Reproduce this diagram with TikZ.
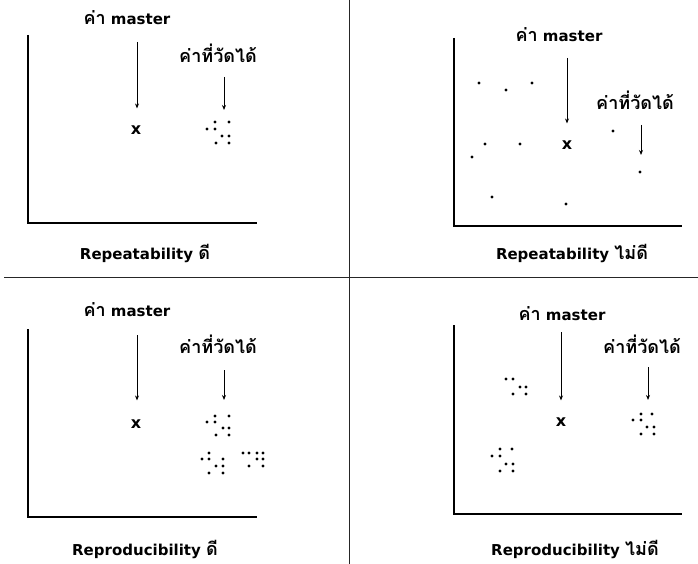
\documentclass[tikz,border=0pt]{standalone}
\usepackage{fontspec}
\setmainfont{DejaVu Sans}
\newfontfamily\thaifont[Script=Thai,Scale=1.2]{Loma}
\usetikzlibrary{arrows.meta}
\tikzset{every node/.style={font=\bfseries\fontsize{15}{18}\selectfont,inner sep=0pt},
  axis/.style={line width=1.7pt},
  divider/.style={line width=0.9pt,draw=black!85},
  pointer/.style={line width=0.9pt,-{Stealth[length=5pt,width=4pt]}},
  crossmark/.style={font=\bfseries\fontsize{16}{18}\selectfont}}

\begin{document}
\begin{tikzpicture}[x=1pt,y=-1pt]
  \path[use as bounding box] (0,0) rectangle (698,564);
  % dividers between the four cases
  \draw[divider] (349,0) -- (349,564);
  \draw[divider] (4,277) -- (698,277);
  % axes
  \foreach \x/\top/\bot/\right in {28/35/223/257,454/38/226/682,
      28/329/517/257,454/325/514/682}
    \draw[axis,line join=miter] (\x,\top) -- (\x,\bot) -- (\right,\bot);

  % Repeatability good
  \node (master1) at (127,18) {{\thaifont ค่า} master};
  \node (measured1) at (218,53) {\thaifont ค่าที่วัดได้};
  \node[crossmark] (cross1) at (136,130) {x};
  \node (caption1) at (145,253) {Repeatability {\thaifont ดี}};
  \coordinate (m1) at (137,42);
  \coordinate (v1a) at (224,77);
  \coordinate (v1b) at (224,110);
  \draw[pointer,shorten >=17pt] (m1) -- (m1 |- cross1.north);
  \draw[pointer] (v1a) -- (v1b);
  \foreach \x/\y in {215/122,229/122,207/129,215/129,222/136,229/136,216/143,229/143}
    \fill (\x,\y) circle (1.7);

  % Repeatability poor
  \node (master2) at (559,35) {{\thaifont ค่า} master};
  \node (measured2) at (635,100) {\thaifont ค่าที่วัดได้};
  \node[crossmark] (cross2) at (567,145) {x};
  \node (caption2) at (572,253) {Repeatability {\thaifont ไม่ดี}};
  \coordinate (m2) at (567,58);
  \coordinate (v2a) at (641,125);
  \coordinate (v2b) at (641,155);
  \draw[pointer,shorten >=17pt] (m2) -- (m2 |- cross2.north);
  \draw[pointer] (v2a) -- (v2b);
  \foreach \x/\y in {479/83,506/90,532/83,485/144,520/144,472/157,492/197,
      566/204,613/131,640/172}
    \fill (\x,\y) circle (1.7);

  % Reproducibility good
  \node (master3) at (127,310) {{\thaifont ค่า} master};
  \node (measured3) at (218,344) {\thaifont ค่าที่วัดได้};
  \node[crossmark] (cross3) at (136,424) {x};
  \node (caption3) at (145,549) {Reproducibility {\thaifont ดี}};
  \coordinate (m3) at (137,335);
  \coordinate (v3a) at (224,370);
  \coordinate (v3b) at (224,400);
  \draw[pointer,shorten >=19pt] (m3) -- (m3 |- cross3.north);
  \draw[pointer] (v3a) -- (v3b);
  \foreach \x/\y in {215/416,229/416,207/422,215/422,223/428,229/428,216/435,229/435,
      209/453,202/459,209/459,223/459,216/466,223/466,209/473,223/473,
      243/453,249/453,257/453,263/453,257/459,263/459,249/466,263/466}
    \fill (\x,\y) circle (1.7);

  % Reproducibility poor
  \node (master4) at (562,314) {{\thaifont ค่า} master};
  \node (measured4) at (642,344) {\thaifont ค่าที่วัดได้};
  \node[crossmark] (cross4) at (561,422) {x};
  \node (caption4) at (575,549) {Reproducibility {\thaifont ไม่ดี}};
  \coordinate (m4) at (561,332);
  \coordinate (v4a) at (648,367);
  \coordinate (v4b) at (648,400);
  \draw[pointer,shorten >=17pt] (m4) -- (m4 |- cross4.north);
  \draw[pointer] (v4a) -- (v4b);
  \foreach \x/\y in {641/414,652/414,633/420,641/420,647/427,654/427,641/434,654/434,
      506/379,513/379,520/387,526/387,513/394,526/394,
      500/449,512/449,492/456,500/456,506/464,513/464,500/471,513/471}
    \fill (\x,\y) circle (1.7);
\end{tikzpicture}
\end{document}
